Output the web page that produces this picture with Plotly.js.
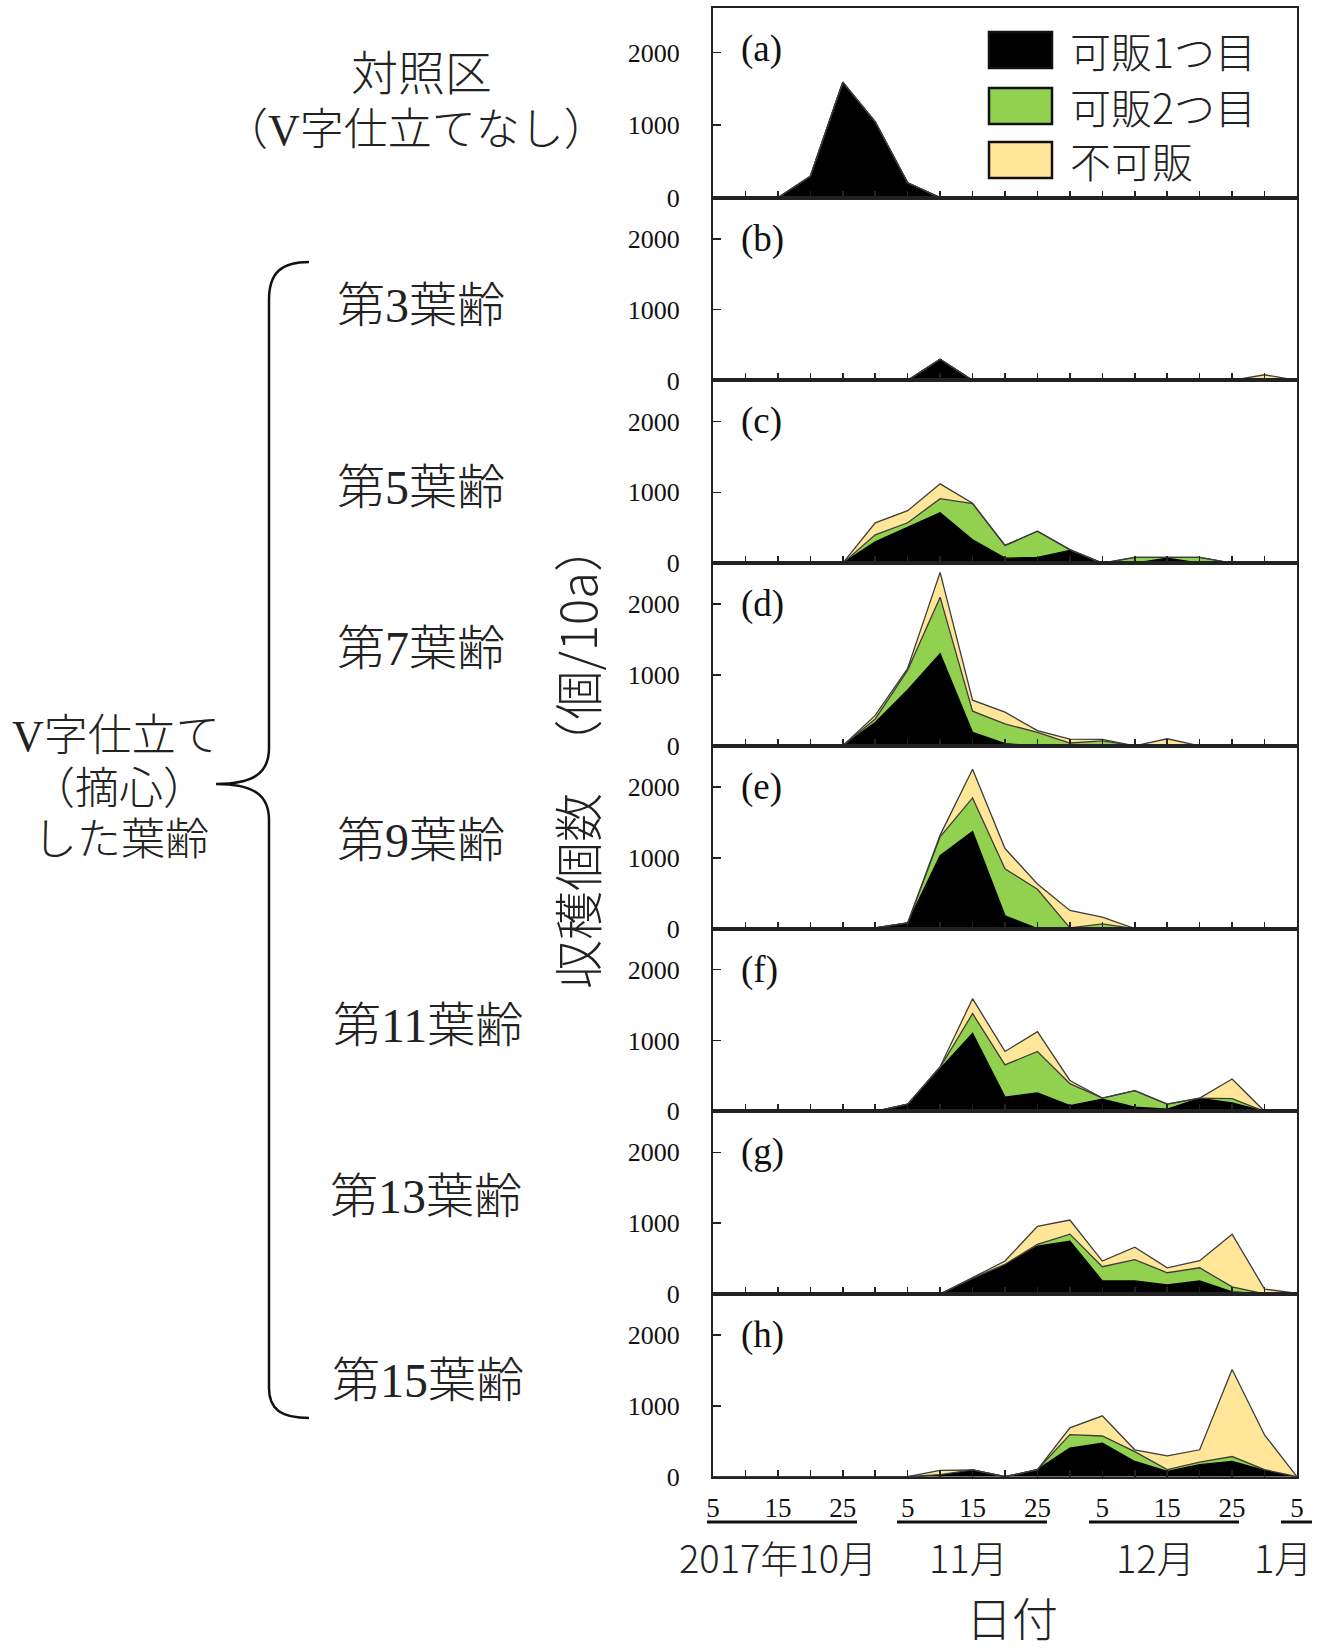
<!DOCTYPE html>
<html><head><meta charset="utf-8">
<script src="https://cdn.plot.ly/plotly-3.0.1.min.js"></script>
<style>html,body{margin:0;padding:0;background:#fff}#chart{width:1321px;height:1649px}</style>
</head><body><div id="chart"></div>
<script>
// 5-day harvest periods (Oct 5 ... Jan 5)
const periods = ['10/5','10/10','10/15','10/20','10/25','10/30','11/5','11/10','11/15','11/20','11/25','11/30','12/5','12/10','12/15','12/20','12/25','12/30','1/5'];
const tickText = ['5','','15','','25','','5','','15','','25','','5','','15','','25','','5'];
const seriesNames = ['可販1つ目','可販2つ目','不可販'];
const panelLetters = ['(a)','(b)','(c)','(d)','(e)','(f)','(g)','(h)'];
const treatmentLabels = ['第3葉齢','第5葉齢','第7葉齢','第9葉齢','第11葉齢','第13葉齢','第15葉齢'];
const monthLabels = ['2017年10月','11月','12月','1月'];
const yTicks = [0,1000,2000];

// (a) 対照区
const a1 = [0,0,0,295,1590,1045,205,0,0,0,0,0,0,0,0,0,0,0,0];
const a2 = [0,0,0,0,0,0,0,0,0,0,0,0,0,0,0,0,0,0,0];
const a3 = [0,0,0,0,0,0,0,0,0,0,0,0,0,0,0,0,0,0,0];
// (b) 第3葉齢
const b1 = [0,0,0,0,0,0,0,300,0,0,0,0,0,0,0,0,0,0,0];
const b2 = [0,0,0,0,0,0,0,0,0,0,0,0,0,0,0,0,0,0,0];
const b3 = [0,0,0,0,0,0,0,0,0,0,0,0,0,0,0,0,0,80,0];
// (c) 第5葉齢
const c1 = [0,0,0,0,0,300,500,710,330,70,80,180,0,0,70,0,0,0,0];
const c2 = [0,0,0,0,0,100,70,200,510,180,370,10,0,80,15,80,0,0,0];
const c3 = [0,0,0,0,0,170,170,210,5,0,0,0,0,0,0,0,0,0,0];
// (d) 第7葉齢
const d1 = [0,0,0,0,0,330,790,1300,190,30,0,0,0,0,0,0,0,0,0];
const d2 = [0,0,0,0,0,50,280,800,300,280,190,40,70,0,0,0,0,0,0];
const d3 = [0,0,0,0,0,50,25,350,155,165,25,55,20,0,100,0,0,0,0];
// (e) 第9葉齢
const e1 = [0,0,0,0,0,10,80,1030,1370,180,0,0,0,0,0,0,0,0,0];
const e2 = [0,0,0,0,0,0,0,265,475,665,555,10,65,0,0,0,0,0,0];
const e3 = [0,0,0,0,0,0,0,25,405,285,75,245,95,0,0,0,0,0,0];
// (f) 第11葉齢
const f1 = [0,0,0,0,0,0,100,600,1100,200,260,80,170,60,30,180,120,0,0];
const f2 = [0,0,0,0,0,0,0,20,280,455,585,310,15,230,70,5,60,0,0];
const f3 = [0,0,0,0,0,0,0,10,210,190,280,45,0,0,0,0,275,0,0];
// (g) 第13葉齢
const g1 = [0,0,0,0,0,0,0,0,220,420,675,745,185,185,130,185,30,0,0];
const g2 = [0,0,0,0,0,0,0,0,0,0,25,100,200,300,170,185,70,0,0];
const g3 = [0,0,0,0,0,0,0,0,10,45,255,200,80,175,70,100,745,70,10];
// (h) 第15葉齢
const h1 = [0,0,0,0,0,0,0,30,95,0,100,405,475,215,75,170,215,90,0];
const h2 = [0,0,0,0,0,0,0,0,0,0,0,190,100,140,25,35,70,10,0];
const h3 = [0,0,0,0,0,0,0,60,0,0,0,95,285,25,195,175,1230,490,0];

const panels = [[a1,a2,a3],[b1,b2,b3],[c1,c2,c3],[d1,d2,d3],[e1,e2,e3],[f1,f2,f3],[g1,g2,g3],[h1,h2,h3]];

const W = 1321, H = 1649;
const PX = v => v / W;
const PY = v => 1 - v / H;
const fills = ['#000000','#92d050','#ffe699'];
const lines = ['#000000','#3c3c3c','#3c3c3c'];
const xIdx = periods.map((_, i) => i);

const plotLeft = 713, plotRight = 1297;
const tops = [8.4, 197.7];
const bottoms = [197.7];
const ph = (1476.7 - 197.7) / 7;
for (let i = 1; i < 8; i++) { bottoms.push(197.7 + ph * i); if (i < 7) tops.push(197.7 + ph * i); }
const pxPer1000 = [72.6, 70.8, 70.8, 70.8, 70.8, 70.8, 70.8, 70.8];

const serif = 'Liberation Serif, Times New Roman, serif';
const jp = 'Noto Sans CJK JP, sans-serif';
const mixed = 'Liberation Serif, Noto Sans CJK JP, serif';

const traces = [];
const layout = {
  width: W, height: H,
  margin: {l: 0, r: 0, t: 0, b: 0},
  paper_bgcolor: '#ffffff', plot_bgcolor: '#ffffff',
  showlegend: false,
  shapes: [], annotations: []
};

panels.forEach((series, p) => {
  const n = p + 1;
  const xa = 'x' + (n === 1 ? '' : n), ya = 'y' + (n === 1 ? '' : n);
  series.forEach((vals, s) => {
    traces.push({
      type: 'scatter', mode: 'lines', x: xIdx, y: vals,
      xaxis: xa, yaxis: ya, stackgroup: 'p' + n, name: seriesNames[s],
      fillcolor: fills[s], line: {color: lines[s], width: 1.3, shape: 'linear'},
      hoverinfo: 'skip'
    });
  });
  const h = bottoms[p] - tops[p];
  const isLast = p === 7;
  layout['xaxis' + (n === 1 ? '' : n)] = {
    domain: [PX(plotLeft), PX(plotRight)], anchor: ya, range: [0, 18],
    showline: true, linecolor: '#222', linewidth: 2, mirror: true,
    ticks: 'inside', ticklen: 7, tickwidth: 1.5, tickcolor: '#222',
    tickvals: xIdx, ticktext: isLast ? tickText : tickText.map(() => ''),
    showticklabels: isLast, tickfont: {family: serif, size: 27, color: '#111'},
    ticklabelstandoff: 6,
    showgrid: false, zeroline: false, fixedrange: true
  };
  layout['yaxis' + (n === 1 ? '' : n)] = {
    domain: [PY(bottoms[p]), PY(tops[p])], anchor: xa,
    range: [0, h / pxPer1000[p] * 1000],
    showline: true, linecolor: '#222', linewidth: 2, mirror: true,
    ticks: 'inside', ticklen: 8, tickwidth: 1.5, tickcolor: '#222',
    tickvals: yTicks, ticktext: yTicks.map(String),
    tickfont: {family: serif, size: 26, color: '#111'}, ticklabelstandoff: 26,
    showgrid: false, zeroline: false, fixedrange: true
  };
  layout.annotations.push({
    xref: 'paper', yref: 'paper', x: PX(739), y: PY(tops[p] + 41),
    xanchor: 'left', yanchor: 'middle', showarrow: false,
    text: panelLetters[p], font: {family: serif, size: 37, color: '#111'}
  });
});

// legend (drawn inside panel a)
const legY = [50, 106, 160];
legY.forEach((cy, i) => {
  layout.shapes.push({type: 'rect', xref: 'paper', yref: 'paper',
    x0: PX(989), x1: PX(1052), y0: PY(cy - 18), y1: PY(cy + 18),
    fillcolor: fills[i], line: {color: '#111', width: 2.5}});
  layout.annotations.push({xref: 'paper', yref: 'paper', x: PX(1068), y: PY(cy),
    xanchor: 'left', yanchor: 'middle', showarrow: false, text: seriesNames[i],
    font: {family: jp, size: 41, color: '#222', weight: 300}});
});

// left-side labels
const addText = (txt, x, y, size, fam, extra) => layout.annotations.push(Object.assign({
  xref: 'paper', yref: 'paper', x: PX(x), y: PY(y), xanchor: 'center', yanchor: 'middle',
  showarrow: false, text: txt, font: {family: fam, size: size, color: '#222', weight: 300}}, extra || {}));

addText('対照区', 421, 74, 47, mixed);
addText('（V字仕立てなし）', 416, 131, 44, mixed);
const treatY = [305, 487, 649, 841, 1025, 1196, 1380];
const treatX = [421, 421, 421, 421, 428, 426, 428];
treatmentLabels.forEach((t, i) => addText(t, treatX[i], treatY[i], 48, mixed));
addText('V字仕立て', 116, 736, 44, mixed);
addText('（摘心）', 119, 789, 44, mixed);
addText('した葉齢', 121, 841, 44, mixed);

// y-axis title
addText('収穫個数　（個/10a）', 576, 756, 49, jp, {textangle: -90});

// month labels and underlines
const monthX = [778, 968, 1155, 1283];
monthLabels.forEach((m, i) => addText(m, monthX[i], 1556, 38, jp));
const underlines = [[707, 857], [897, 1047], [1089, 1239], [1281, 1312]];
underlines.forEach(u => layout.shapes.push({type: 'line', xref: 'paper', yref: 'paper',
  x0: PX(u[0]), x1: PX(u[1]), y0: PY(1522), y1: PY(1522), line: {color: '#111', width: 3}}));
addText('日付', 1012, 1616, 46, jp);

// curly bracket
const P = (x, y) => PX(x).toFixed(5) + ',' + PY(y).toFixed(5);
const bracePath = 'M' + P(309, 262) +
  ' C' + P(282, 262) + ' ' + P(269, 272) + ' ' + P(269, 300) +
  ' L' + P(269, 748) +
  ' C' + P(269, 772) + ' ' + P(255, 784) + ' ' + P(216, 784) +
  ' C' + P(255, 784) + ' ' + P(269, 796) + ' ' + P(269, 820) +
  ' L' + P(269, 1388) +
  ' C' + P(269, 1410) + ' ' + P(282, 1418) + ' ' + P(309, 1418);
layout.shapes.push({type: 'path', xref: 'paper', yref: 'paper', path: bracePath,
  line: {color: '#111', width: 2.5}});

Plotly.newPlot('chart', traces, layout, {staticPlot: true, displayModeBar: false});
</script></body></html>
